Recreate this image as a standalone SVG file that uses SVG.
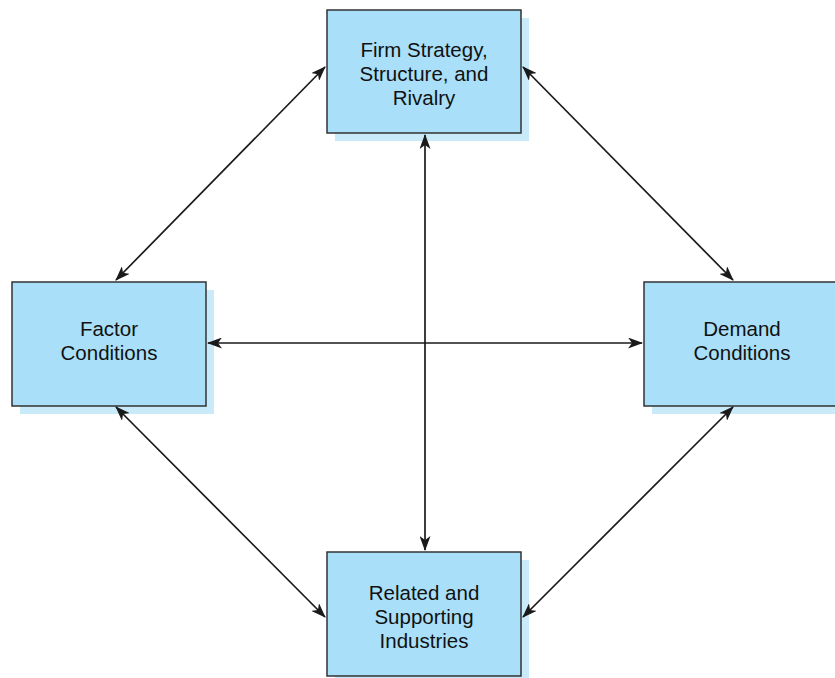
<svg xmlns="http://www.w3.org/2000/svg" width="835" height="678" viewBox="0 0 835 678">
<style>
.shadow{fill:#c8eaf9;}
.box{fill:#a9dff8;stroke:#333;stroke-width:1.5;}
.lbl{font-family:"Liberation Sans",Arial,sans-serif;font-size:20.5px;fill:#111;text-anchor:middle;}
.con{stroke:#1a1a1a;stroke-width:1.7;fill:none;marker-start:url(#ah);marker-end:url(#ah);}
</style>
<defs>
<marker id="ah" viewBox="0 0 15 11" refX="14" refY="5.5" markerWidth="15" markerHeight="11" markerUnits="userSpaceOnUse" orient="auto-start-reverse">
<path d="M0,0 L15,5.5 L0,11 L4,5.5 Z" fill="#1a1a1a"/>
</marker>
</defs>
<rect width="835" height="678" fill="#fff"/>
<g id="top">
<rect class="shadow" x="335" y="18" width="194" height="123"/>
<rect class="box" x="327" y="10" width="194" height="123"/>
<text class="lbl" x="424" y="57">Firm Strategy,</text>
<text class="lbl" x="424" y="81">Structure, and</text>
<text class="lbl" x="424" y="105">Rivalry</text>
</g>
<g id="left">
<rect class="shadow" x="20" y="290" width="194" height="124"/>
<rect class="box" x="12" y="282" width="194" height="124"/>
<text class="lbl" x="109" y="336">Factor</text>
<text class="lbl" x="109" y="360">Conditions</text>
</g>
<g id="right">
<rect class="shadow" x="652" y="290" width="194" height="124"/>
<rect class="box" x="644" y="282" width="194" height="124"/>
<text class="lbl" x="742" y="336">Demand</text>
<text class="lbl" x="742" y="360">Conditions</text>
</g>
<g id="bottom">
<rect class="shadow" x="335" y="560" width="194" height="124"/>
<rect class="box" x="327" y="552" width="194" height="124"/>
<text class="lbl" x="424" y="600">Related and</text>
<text class="lbl" x="424" y="624">Supporting</text>
<text class="lbl" x="424" y="648">Industries</text>
</g>
<g id="connectors">
<line class="con" x1="325" y1="67" x2="116" y2="280"/>
<line class="con" x1="523" y1="67" x2="733" y2="280"/>
<line class="con" x1="425" y1="135" x2="425" y2="550"/>
<line class="con" x1="208" y1="343" x2="642" y2="343"/>
<line class="con" x1="116" y1="407" x2="325" y2="617"/>
<line class="con" x1="733" y1="407" x2="523" y2="617"/>
</g>
</svg>
